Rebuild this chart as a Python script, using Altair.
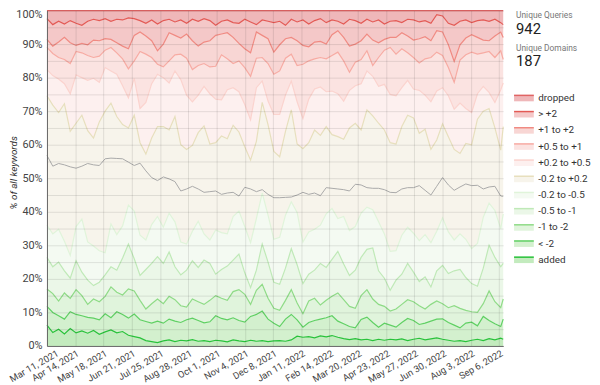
import altair as alt
import pandas as pd

# ---- dates (weekly samples, Mar 11 2021 .. Sep 11 2022) ----
dates = [d.strftime("%Y-%m-%d") for d in pd.date_range("2021-03-11", periods=79, freq="7D")] + ["2022-09-11"]
tick_dates = pd.date_range("2021-03-11", periods=17, freq="34D")

# ---- categories, bottom to top ----
categories = ["added", "< -2", "-1 to -2", "-0.5 to -1", "-0.2 to -0.5", "-0.2 to +0.2",
              "+0.2 to +0.5", "+0.5 to +1", "+1 to +2", "> +2", "dropped"]

# ---- cumulative top edge of each band (% of all keywords) ----
added_top = [6.2, 4.0, 5.0, 3.6, 5.2, 3.9, 4.5, 3.8, 4.6, 3.5, 4.2, 4.8, 3.9, 4.3, 3.2, 2.8, 2.4, 1.6, 1.3, 1.0,
             1.5, 1.8, 1.3, 1.7, 1.5, 1.9, 1.4, 1.6, 1.3, 1.7, 1.5, 1.2, 1.8, 1.5, 1.3, 1.7, 1.4, 1.6, 1.3, 1.5,
             1.6, 1.4, 1.8, 2.9, 2.6, 2.8, 2.4, 3.0, 2.7, 3.1, 2.6, 2.2, 1.9, 2.2, 1.8, 2.0, 1.6, 2.0, 1.7, 2.0,
             1.8, 2.1, 1.6, 2.0, 2.3, 1.8, 2.1, 2.4, 2.0, 1.7, 1.4, 1.6, 1.3, 1.7, 2.0, 1.6, 2.2, 1.8, 2.3, 2.0]
lt_m2_top = [11.8, 10.0, 9.0, 8.0, 10.2, 9.4, 9.0, 8.5, 8.3, 7.8, 9.6, 8.4, 10.2, 9.4, 8.3, 9.5, 7.8, 7.3, 6.8, 7.4,
             6.8, 8.0, 7.4, 7.0, 7.8, 8.3, 7.6, 6.9, 7.2, 9.0, 8.2, 7.8, 8.4, 7.6, 7.1, 8.8, 9.4, 10.4, 8.0, 6.8,
             5.8, 8.0, 9.4, 7.8, 5.6, 7.0, 7.6, 8.0, 8.4, 9.0, 7.4, 6.6, 5.8, 5.4, 7.9, 8.6, 7.0, 5.6, 6.8, 6.2,
             5.6, 7.0, 8.2, 7.6, 6.4, 6.8, 7.4, 8.0, 8.1, 7.0, 6.2, 5.4, 6.8, 7.1, 6.0, 8.8, 7.6, 6.6, 5.8, 8.0]
m1_m2_top = [17.0, 15.6, 13.4, 15.8, 14.2, 16.8, 15.0, 12.4, 14.0, 13.2, 14.8, 17.6, 16.0, 15.2, 17.0, 16.4, 13.6, 11.0, 12.6, 14.0,
             12.6, 14.8, 13.8, 12.0, 11.6, 14.0, 13.2, 12.4, 13.6, 15.0, 14.2, 13.6, 16.2, 16.8, 15.4, 12.4, 16.6, 18.4, 14.2, 11.2,
             10.6, 13.6, 16.8, 12.8, 9.6, 13.4, 14.2, 12.2, 13.6, 14.8, 15.8, 13.8, 11.8, 11.2, 15.0, 16.8, 14.0, 12.4, 11.8, 10.4,
             11.0, 12.4, 13.8, 13.2, 12.0, 11.0, 12.4, 13.4, 12.6, 11.4, 12.0, 11.2, 10.6, 10.2, 10.0, 12.6, 16.4, 13.2, 11.4, 14.0]
m05_m1_top = [26.4, 23.6, 25.0, 22.4, 20.2, 25.4, 22.0, 19.6, 18.0, 19.0, 21.2, 23.6, 22.6, 26.2, 30.4, 26.0, 21.0, 22.8, 24.6, 26.6,
              24.6, 28.0, 23.6, 21.2, 22.6, 25.4, 23.4, 25.6, 24.6, 21.4, 22.8, 23.8, 25.6, 27.4, 21.8, 17.4, 22.6, 30.4, 25.0, 19.0,
              18.4, 23.2, 29.0, 24.2, 18.6, 21.4, 22.6, 24.6, 23.4, 25.8, 28.2, 24.4, 21.0, 22.6, 26.4, 28.8, 29.2, 22.4, 20.2, 16.6,
              19.6, 21.4, 24.6, 22.0, 19.2, 20.6, 17.6, 22.4, 24.0, 21.6, 22.4, 22.8, 20.4, 18.6, 17.8, 23.2, 30.0, 26.4, 23.6, 24.6]
m02_m05_top = [36.0, 33.4, 34.8, 31.2, 27.0, 35.6, 37.8, 31.0, 29.8, 28.4, 27.8, 36.4, 33.2, 35.8, 42.0, 40.2, 33.0, 31.6, 36.2, 38.6,
               35.4, 39.6, 37.0, 31.0, 30.4, 34.2, 37.2, 33.4, 31.6, 34.6, 33.8, 33.4, 38.6, 40.2, 35.6, 30.8, 38.0, 45.6, 39.0, 31.8,
               32.4, 39.0, 43.0, 39.8, 31.0, 34.0, 34.8, 36.0, 39.4, 41.0, 38.0, 38.6, 34.4, 35.6, 39.6, 41.4, 40.6, 37.0, 33.4, 28.2,
               28.4, 33.0, 35.4, 33.6, 31.4, 33.2, 30.8, 34.2, 38.2, 34.0, 31.6, 33.4, 31.8, 29.0, 30.6, 38.4, 42.6, 40.4, 35.0, 39.4]
flat_top = [74.6, 71.8, 69.6, 72.2, 64.0, 66.4, 68.8, 64.2, 62.0, 66.8, 70.0, 72.4, 68.4, 66.0, 65.0, 68.8, 60.6, 57.2, 62.0, 65.4,
            65.4, 64.4, 68.4, 60.0, 58.6, 59.8, 63.6, 65.6, 60.2, 60.6, 62.6, 61.8, 65.8, 63.8, 59.4, 55.4, 61.0, 72.6, 66.0, 58.0,
            56.4, 64.0, 70.4, 60.2, 58.8, 60.6, 64.4, 62.8, 65.4, 63.0, 62.4, 61.6, 65.0, 66.4, 64.4, 70.4, 68.6, 66.4, 64.4, 60.6,
            60.2, 65.4, 68.8, 68.0, 63.4, 64.6, 58.6, 61.4, 66.2, 62.4, 58.6, 57.4, 60.4, 60.0, 67.6, 70.0, 70.8, 65.0, 58.4, 65.4]
p02_p05_top = [82.4, 80.6, 79.6, 78.2, 75.2, 80.8, 80.0, 79.2, 79.8, 78.6, 83.0, 82.0, 81.0, 77.6, 74.0, 79.8, 70.8, 72.6, 78.2, 81.0,
               80.0, 78.4, 82.0, 79.4, 74.8, 72.8, 74.8, 77.4, 75.2, 73.6, 73.4, 76.4, 77.0, 75.8, 72.0, 67.4, 77.0, 79.0, 73.0, 69.0,
               69.0, 74.8, 79.0, 72.8, 67.8, 73.6, 76.6, 77.2, 75.8, 76.0, 75.2, 73.0, 76.2, 77.6, 78.2, 82.0, 80.4, 77.4, 78.0, 75.0,
               74.6, 77.0, 79.2, 76.6, 76.2, 74.8, 72.8, 76.0, 77.0, 74.6, 70.6, 72.4, 70.8, 69.6, 75.2, 77.4, 75.6, 72.6, 76.4, 78.4]
p05_p1_top = [89.0, 87.2, 86.0, 85.4, 84.2, 87.8, 87.4, 86.6, 86.0, 86.4, 88.2, 89.0, 87.4, 85.6, 82.6, 85.0, 87.8, 87.0, 86.0, 84.0,
              83.2, 85.0, 86.8, 87.0, 85.8, 82.4, 83.6, 84.2, 83.2, 83.4, 86.8, 85.6, 84.2, 85.0, 83.0, 80.4, 85.8, 86.0, 84.2, 81.0,
              82.0, 85.8, 87.0, 83.6, 84.0, 85.0, 85.6, 86.0, 85.6, 86.6, 87.6, 85.0, 81.6, 84.6, 85.4, 88.0, 83.6, 86.0, 88.2, 89.0,
              87.0, 88.6, 87.4, 86.0, 84.4, 85.6, 86.0, 87.6, 86.6, 83.0, 78.6, 85.2, 86.8, 87.6, 87.0, 87.4, 87.8, 86.0, 88.0, 85.4]
p1_p2_top = [91.4, 89.4, 90.6, 92.0, 90.4, 89.6, 90.2, 89.8, 91.2, 91.0, 91.6, 91.4, 90.4, 89.4, 88.6, 92.6, 93.6, 92.4, 91.0, 88.0,
             90.0, 93.4, 92.6, 91.8, 93.0, 91.0, 89.4, 90.6, 91.0, 92.6, 93.0, 93.4, 92.0, 90.2, 88.6, 87.4, 93.6, 92.6, 91.6, 87.6,
             89.8, 91.6, 92.0, 91.0, 89.6, 89.2, 90.6, 90.8, 90.0, 92.8, 94.0, 92.0, 89.4, 90.0, 91.0, 93.0, 91.2, 90.4, 91.4, 92.0,
             92.0, 93.4, 92.4, 91.2, 91.6, 92.2, 91.0, 94.0, 93.6, 89.8, 84.8, 89.8, 91.8, 92.8, 92.0, 91.2, 91.0, 92.4, 93.6, 92.0]
gt_p2_top = [97.6, 95.8, 96.8, 96.0, 97.0, 96.2, 95.6, 96.8, 97.4, 97.0, 97.6, 96.8, 97.4, 97.2, 97.8, 97.6, 97.0, 96.2, 97.2, 96.0,
             97.0, 97.4, 96.6, 97.2, 96.2, 97.4, 96.8, 97.6, 97.0, 95.6, 96.8, 97.2, 96.4, 96.2, 97.4, 96.6, 95.8, 97.2, 96.8, 96.4,
             96.8, 95.6, 97.4, 96.6, 97.2, 96.0, 97.0, 97.6, 96.4, 97.2, 96.8, 96.0, 97.4, 97.0, 96.2, 97.4, 96.6, 97.2, 96.0, 96.8,
             97.0, 96.4, 97.4, 97.2, 96.6, 97.0, 96.2, 98.8, 98.4, 96.2, 95.6, 96.8, 97.2, 96.4, 97.0, 97.2, 96.8, 97.4, 96.4, 95.8]
dropped_top = [100.0] * len(dates)

# separate grey reference line
grey_line = [56.8, 53.6, 54.4, 54.0, 53.4, 53.0, 53.6, 54.4, 54.0, 53.8, 55.8, 56.0, 55.9, 55.8, 54.8, 53.8, 54.5, 52.2, 50.2, 49.3,
             50.4, 49.8, 49.0, 46.2, 46.8, 47.6, 46.8, 45.8, 46.0, 46.2, 45.2, 45.6, 45.8, 44.7, 47.3, 46.8, 46.0, 46.6, 45.2, 44.2,
             44.2, 44.3, 44.4, 45.0, 45.8, 45.2, 45.6, 44.8, 47.2, 47.0, 46.8, 46.6, 46.2, 48.2, 48.0, 47.2, 47.0, 47.0, 46.6, 45.8,
             45.7, 46.8, 47.2, 47.2, 47.8, 46.4, 45.0, 47.6, 50.2, 48.0, 46.4, 47.4, 48.3, 47.8, 47.9, 46.8, 47.4, 47.6, 44.7, 44.6]

edges = [added_top, lt_m2_top, m1_m2_top, m05_m1_top, m02_m05_top, flat_top,
         p02_p05_top, p05_p1_top, p1_p2_top, gt_p2_top, dropped_top]

fill_colors = ["#c3ebbe", "#d3f0ce", "#e0f4dc", "#ebf7e8", "#f4faf2", "#f7f4eb",
               "#fdf0ef", "#fbe3e1", "#f8d6d4", "#f4c8c8", "#efb7b9"]
line_colors = ["#28c23a", "#5fd063", "#8edb86", "#bfe9b7", "#e0f4da", "#e7dfbd",
               "#fbd3ce", "#f7aba3", "#f08a82", "#e35a55", "#e06464"]

unique_queries = "942"
unique_domains = "187"

# ---- build long table ----
rows = []
for i, cat in enumerate(categories):
    hi = edges[i]
    lo = edges[i - 1] if i > 0 else [0.0] * len(dates)
    for d, a, b in zip(dates, lo, hi):
        rows.append({"date": d, "cat": cat, "lo": a, "hi": b})
df = pd.DataFrame(rows)
grey_df = pd.DataFrame({"date": dates, "hi": grey_line})

def dt(ts):
    return alt.DateTime(year=ts.year, month=ts.month, date=ts.day, utc=True)

x_scale = alt.Scale(type="utc", domain=[dt(pd.Timestamp("2021-03-11")), dt(pd.Timestamp("2022-09-11"))], nice=False)
y_scale = alt.Scale(domain=[0, 100], nice=False)

x_axis = alt.Axis(values=[dt(t) for t in tick_dates],
                  labelExpr="utcFormat(datum.value, '%b %-d, %Y')",
                  labelAngle=-30, labelAlign="right", labelBaseline="top",
                  labelFontSize=9.5, labelColor="#444", labelPadding=2,
                  labelOffset={"condition": {"test": "datum.value < utc(2021, 2, 20)", "value": 8}, "value": 0},
                  labelOverlap=False, labelFlush=False, labelBound=False, ticks=False,
                  grid=True, gridColor="#000", gridOpacity=0.1,
                  domainColor="#666", title=None, zindex=1)
y_axis = alt.Axis(values=list(range(0, 101, 5)),
                  labelExpr="datum.value % 10 == 0 ? datum.value + '%' : ''",
                  labelOverlap=False, labelFlush=False,
                  labelOffset={"condition": {"test": "datum.value == 100", "value": 4}, "value": 0},
                  ticks=False, labelFontSize=11, labelColor="#444", labelPadding=5,
                  grid=True, gridColor="#000", gridOpacity=0.1, domainColor="#666",
                  title="% of all keywords", titleFontStyle="italic", titleFontWeight="normal",
                  titleFontSize=10, titleColor="#333", titleX=-33.5, titleY=164,
                  titleAlign="center", titleBaseline="middle", zindex=1)

areas = alt.Chart(df).mark_area(interpolate="linear", opacity=1, strokeWidth=0).encode(
    x=alt.X("date:T", scale=x_scale, axis=x_axis),
    y=alt.Y("hi:Q", scale=y_scale, axis=y_axis),
    y2="lo:Q",
    fill=alt.Fill("cat:N", scale=alt.Scale(domain=categories, range=fill_colors), legend=None),
)
lines = alt.Chart(df).mark_line(interpolate="linear", strokeWidth=1.2).encode(
    x=alt.X("date:T", scale=x_scale, axis=x_axis),
    y=alt.Y("hi:Q", scale=y_scale, axis=y_axis),
    stroke=alt.Stroke("cat:N", scale=alt.Scale(domain=categories, range=line_colors), legend=None),
)
grey = alt.Chart(grey_df).mark_line(color="#a9a9a9", strokeWidth=1).encode(
    x=alt.X("date:T", scale=x_scale, axis=x_axis),
    y=alt.Y("hi:Q", scale=y_scale, axis=y_axis),
)

# ---- custom legend and scorecards (plot coordinates) ----
one = alt.Data(values=[{}])
extra = []
leg_x0, leg_x1, leg_top, leg_step = 473.5, 493.5, 85.5, 16.4
for i, cat in enumerate(reversed(categories)):
    k = len(categories) - 1 - i
    y0 = leg_top + leg_step * i
    extra.append(alt.Chart(one).mark_rect(fill=fill_colors[k]).encode(
        x=alt.value(leg_x0), x2=alt.value(leg_x1), y=alt.value(y0), y2=alt.value(y0 + 6.5)))
    extra.append(alt.Chart(one).mark_rule(stroke=line_colors[k], strokeWidth=1.5).encode(
        x=alt.value(leg_x0), x2=alt.value(leg_x1), y=alt.value(y0 + 0.5)))
    extra.append(alt.Chart(one).mark_text(text=cat, align="left", baseline="middle",
                                          fontSize=10, color="#333").encode(
        x=alt.value(leg_x1 + 4.5), y=alt.value(y0 + 3.2)))

extra.append(alt.Chart(one).mark_text(text="Unique Queries", align="left", baseline="alphabetic",
                                      fontSize=8.5, color="#777").encode(x=alt.value(475.5), y=alt.value(8)))
extra.append(alt.Chart(one).mark_text(text=unique_queries, align="left", baseline="alphabetic",
                                      fontSize=15, color="#222").encode(x=alt.value(475.5), y=alt.value(23.5)))
extra.append(alt.Chart(one).mark_text(text="Unique Domains", align="left", baseline="alphabetic",
                                      fontSize=8.5, color="#777").encode(x=alt.value(475.5), y=alt.value(41)))
extra.append(alt.Chart(one).mark_text(text=unique_domains, align="left", baseline="alphabetic",
                                      fontSize=15, color="#222").encode(x=alt.value(475.5), y=alt.value(56.5)))

chart = alt.layer(areas, lines, grey, *extra).properties(
    width=462.5, height=340,
    autosize=alt.AutoSizeParams(type="none"),
    padding={"left": 39.5, "top": 0, "right": 90, "bottom": 37},
).configure(font="Roboto").configure_view(stroke=None).configure_axis(labelOverlap=False)

chart.save("out.html", embed_options={"renderer": "svg", "actions": False})
